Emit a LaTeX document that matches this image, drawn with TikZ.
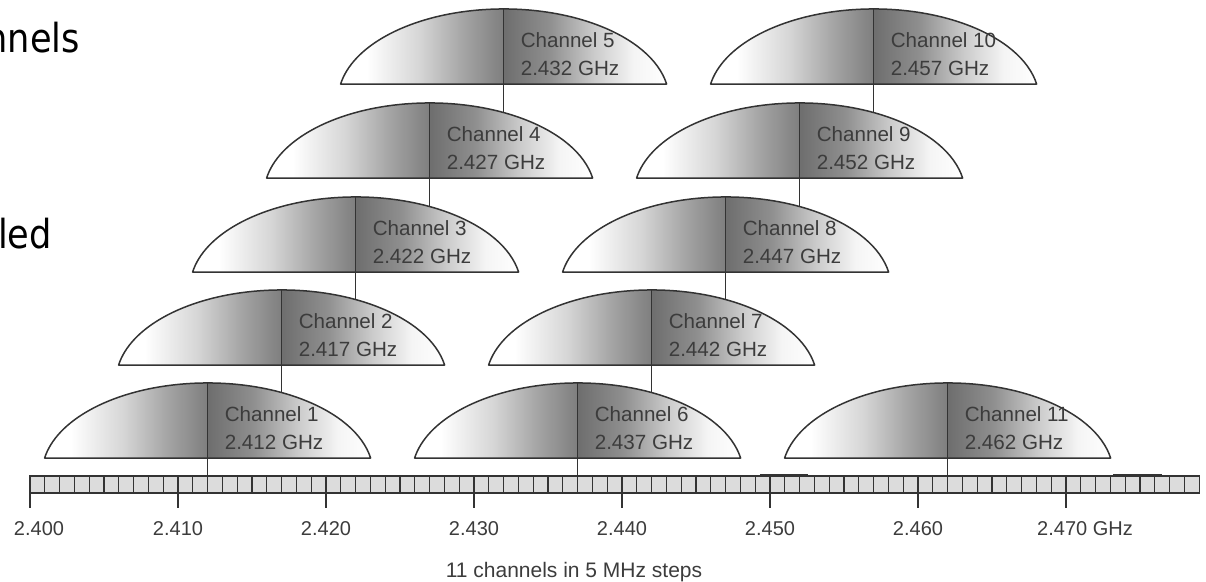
\documentclass[tikz,border=0pt]{standalone}
\usepackage{graphicx}
\usepackage{fontspec}
\setmainfont{Liberation Sans}
\newfontfamily\slidefont{DejaVu Sans}
\definecolor{ink}{HTML}{333333}
\definecolor{txt}{HTML}{3C3C3C}
\definecolor{barfill}{HTML}{DCDCDC}
\pgfdeclarehorizontalshading{humpshade}{100bp}{color(0bp)=(white); color(25bp)=(white); color(29bp)=(white); color(37bp)=(black!16); color(44bp)=(black!36); color(49.8bp)=(black!50); color(50bp)=(black!57); color(57bp)=(black!44); color(64bp)=(black!20); color(70bp)=(black!4); color(75bp)=(white); color(100bp)=(white)}
\tikzset{
  humpfill/.style={shading=humpshade},
  humpline/.style={draw=ink, line width=1.5pt, line join=round},
  centerline/.style={draw=ink, line width=1.3pt},
  chtext/.style={text=txt, font=\fontsize{20.6}{24}\selectfont, inner sep=0pt, anchor=base west},
  freqtext/.style={text=txt, font=\fontsize{20}{24}\selectfont, inner sep=0pt, anchor=base},
  slidetext/.style={text=black, font=\slidefont\fontsize{40}{48}\selectfont, inner sep=0pt, anchor=base east},
  barline/.style={draw=ink, line width=1.4pt},
  cellline/.style={draw=ink, line width=1.2pt},
}
% #1 id, #2 centre x, #3 base y, #4 end y of centre line, #5 channel, #6 frequency
\newcommand\chanhump[6]{%
  \shade[humpfill] ({#2+163},{-#3}) arc[start angle=10,end angle=170,x radius=165.5pt,y radius=90.8pt] -- cycle;
  \coordinate (t#1) at ({#2},{-#3+75});
  \coordinate (e#1) at ({#2},{-#4});
  \draw[centerline] (t#1) -- (e#1);
  \draw[humpline] ({#2+163},{-#3}) arc[start angle=10,end angle=170,x radius=165.5pt,y radius=90.8pt] -- cycle;
  \node[chtext] (n#1) at ({#2+17},{-#3+36.5}) {Channel #5};
  \node[chtext] (f#1) at ({#2+17},{-#3+8.5}) {#6 GHz};
}
\begin{document}
\begin{tikzpicture}[x=1pt,y=1pt]
\useasboundingbox (0,0) rectangle (1206,-581);
\clip (0,0) rectangle (1206,-581);
% slide text fragments
\node[slidetext] (s1) at (80,-52) {\scalebox{0.88}[1]{nnels}};
\node[slidetext] (s2) at (52,-248) {\scalebox{0.88}[1]{led}};
% row 5
\chanhump{5}{503.6}{84}{178}{5}{2.432}
\chanhump{10}{873.6}{84}{178}{10}{2.457}
% row 4
\chanhump{4}{429.6}{178}{272}{4}{2.427}
\chanhump{9}{799.6}{178}{272}{9}{2.452}
% row 3
\chanhump{3}{355.6}{272}{365}{3}{2.422}
\chanhump{8}{725.6}{272}{365}{8}{2.447}
% row 2
\chanhump{2}{281.6}{365}{458}{2}{2.417}
\chanhump{7}{651.6}{365}{458}{7}{2.442}
% row 1
\chanhump{1}{207.6}{458}{476}{1}{2.412}
\chanhump{6}{577.6}{458}{476}{6}{2.437}
\chanhump{11}{947.6}{458}{476}{11}{2.462}
% frequency bar
\fill[barfill] (30,-476) rectangle (1199.2,-493);
\foreach \i in {1,...,78} \draw[cellline] ({30+14.8*\i},-476) -- ({30+14.8*\i},-493);
\draw[barline] (30,-476) rectangle (1199.2,-493);
\draw[barline] (30,-475.2) -- (103,-475.2);
\draw[barline] (760,-475) -- (808,-475);
\draw[barline] (1113,-475) -- (1162,-475);
\foreach \i in {0,...,7} \draw[cellline] ({30+148*\i},-493) -- ({30+148*\i},-508);
\node[freqtext] (l0) at (39,-535) {2.400};
\node[freqtext] (l1) at (178,-535) {2.410};
\node[freqtext] (l2) at (326,-535) {2.420};
\node[freqtext] (l3) at (474,-535) {2.430};
\node[freqtext] (l4) at (622,-535) {2.440};
\node[freqtext] (l5) at (770,-535) {2.450};
\node[freqtext] (l6) at (918,-535) {2.460};
\node[freqtext, anchor=base west] (l7) at (1037,-535) {2.470 GHz};
\node[freqtext, font=\fontsize{21}{24}\selectfont] (cap) at (574,-577) {11 channels in 5 MHz steps};
\end{tikzpicture}
\end{document}
